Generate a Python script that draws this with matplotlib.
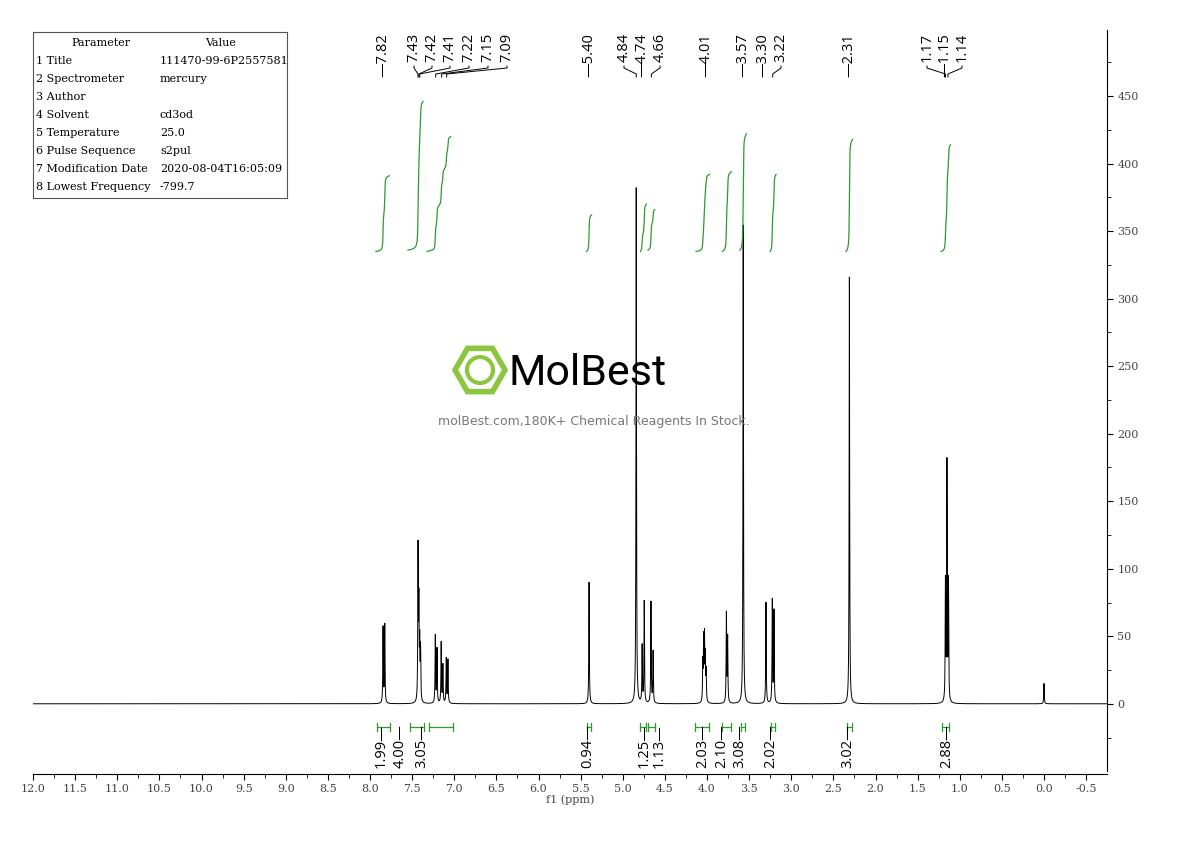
import numpy as np
import matplotlib
matplotlib.use("Agg")
import matplotlib.pyplot as plt
from matplotlib.patches import RegularPolygon, Circle

# ---- data ----
peak_ppm = [7.845, 7.825, 7.43, 7.42, 7.41, 7.40, 7.225, 7.205, 7.155, 7.135, 7.095, 7.075,
            5.40, 4.84, 4.77, 4.745, 4.665, 4.64,
            4.05, 4.04, 4.03, 4.02, 4.01, 3.77, 3.755, 3.57, 3.30, 3.225, 3.205,
            2.31, 1.17, 1.152, 1.134, 0.00]
peak_h = [56, 58, 112, 68, 40, 38, 50, 40, 45, 28, 33, 32,
          90, 382, 42, 75, 75, 38,
          28, 44, 46, 32, 22, 66, 48, 355, 75, 76, 68,
          316, 88, 176, 88, 15]
width = 0.0035

int_start = [7.93, 7.55, 7.32, 5.43, 4.79, 4.70, 4.13, 3.82, 3.61, 3.25, 2.35, 1.22]
int_end   = [7.77, 7.37, 7.04, 5.37, 4.72, 4.62, 3.97, 3.71, 3.53, 3.18, 2.27, 1.11]
int_bottom = [335, 336, 335, 335, 335, 336, 335, 335, 336, 335, 335, 335]
int_top    = [391, 446, 420, 362, 370, 366, 392, 394, 422, 392, 418, 414]

bracket_lo = [7.92, 7.52, 7.30, 5.42, 4.79, 4.70, 4.14, 3.82, 3.60, 3.24, 2.34, 1.21]
bracket_hi = [7.76, 7.36, 7.02, 5.38, 4.72, 4.62, 3.98, 3.72, 3.55, 3.19, 2.28, 1.13]
int_labels = ["1.99", "4.00", "3.05", "0.94", "1.25", "1.13", "2.03", "2.10", "3.08", "2.02", "3.02", "2.88"]
int_label_ppm = [7.87, 7.64, 7.38, 5.41, 4.74, 4.57, 4.05, 3.82, 3.61, 3.24, 2.33, 1.16]

top_labels = ["7.82", "7.43", "7.42", "7.41", "7.22", "7.15", "7.09", "5.40", "4.84", "4.74", "4.66",
              "4.01", "3.57", "3.30", "3.22", "2.31", "1.17", "1.15", "1.14"]
top_peak_pos = [7.83, 7.43, 7.42, 7.41, 7.22, 7.15, 7.09, 5.40, 4.84, 4.74, 4.66,
                4.01, 3.57, 3.30, 3.22, 2.31, 1.17, 1.15, 1.14]
# label x positions in figure pixels (layout)
top_label_px = [383, 414, 432, 450, 469, 488, 507, 589, 624, 642, 660,
                706, 743, 763, 781, 849, 927, 945, 962]

params = [("Parameter", "Value"), ("1 Title", "111470-99-6P2557581"), ("2 Spectrometer", "mercury"),
          ("3 Author", ""), ("4 Solvent", "cd3od"), ("5 Temperature", "25.0"),
          ("6 Pulse Sequence", "s2pul"), ("7 Modification Date", "2020-08-04T16:05:09"),
          ("8 Lowest Frequency", "-799.7")]

# ---- figure ----
fig = plt.figure(figsize=(11.9, 8.41), dpi=100)
W, H = 1190, 841
X0, PPM_PX = 33, 84.25
def px2ppm(px):
    return 12.0 - (px - X0) / PPM_PX

ax = fig.add_axes([33 / W, 1 - 774 / H, (1107 - 33) / W, (774 - 30) / H])
ax.set_xlim(12.0, px2ppm(1107))
ax.set_ylim(-52, 499)

x = np.linspace(12.0, -0.75, 40000)
y = np.zeros_like(x)
for p, h in zip(peak_ppm, peak_h):
    y += h * width**2 / ((x - p)**2 + width**2)
ax.plot(x, y, color="black", lw=0.7)

green = "#2e9a2e"
for s, e, b, t in zip(int_start, int_end, int_bottom, int_top):
    m = (x <= s) & (x >= e)
    c = np.cumsum(y[m])
    c = (c - c[0]) / (c[-1] - c[0])
    ax.plot(x[m], b + c * (t - b), color=green, lw=0.9)

for lo, hi, lab, lp in zip(bracket_lo, bracket_hi, int_labels, int_label_ppm):
    ax.plot([lo, hi], [-17, -17], color=green, lw=0.9)
    ax.plot([lo, lo], [-14, -20], color=green, lw=0.9)
    ax.plot([hi, hi], [-14, -20], color=green, lw=0.9)
    ax.text(lp, -15, lab + "—", rotation=90, ha="center", va="top", fontsize=10.5,
            family="Open Sans")

tr = ax.get_xaxis_transform()
def fy(py):
    return (774 - py) / 744
for lab, lpx, ppos in zip(top_labels, top_label_px, top_peak_pos):
    lpos = px2ppm(lpx)
    straight = abs(lpx - (X0 + (12 - ppos) * PPM_PX)) < 3
    ax.text(lpos, fy(33), ("—" + lab) if straight else lab, rotation=90, ha="center", va="top",
            fontsize=10.5, family="Open Sans", transform=tr)
    if not straight:
        ax.plot([lpos, lpos, ppos, ppos], [fy(66), fy(68), fy(74), fy(77)],
                color="black", lw=0.7, transform=tr)

for sp in ["top", "left"]:
    ax.spines[sp].set_visible(False)
ax.spines["right"].set_bounds(-50, 499)
ax.yaxis.tick_right()
ax.set_yticks(np.arange(0, 451, 50))
ax.set_yticks(np.arange(-25, 499, 25), minor=True)
xt = np.arange(12.0, -0.51, -0.5)
ax.set_xticks(xt)
ax.set_xticks(np.arange(11.75, -0.75, -0.5), minor=True)
ax.set_xticklabels([f"{v:.1f}" for v in xt], family="DejaVu Serif", fontsize=8, color="#444444")
ax.tick_params(axis="y", labelsize=8, direction="out", length=4, labelcolor="#444444")
ax.tick_params(axis="y", which="minor", length=3)
ax.tick_params(axis="x", direction="out", length=4, labelsize=8)
ax.tick_params(axis="x", which="minor", direction="out", length=3)
for t in ax.get_yticklabels():
    t.set_family("DejaVu Serif")
ax.set_xlabel("f1 (ppm)", family="DejaVu Serif", fontsize=8, labelpad=0, color="#444444")

# parameter table
tb = fig.add_axes([33 / W, 1 - 198 / H, (287 - 33) / W, (198 - 32) / H])
tb.set_xlim(0, 254); tb.set_ylim(166, 0)
tb.set_xticks([]); tb.set_yticks([])
for sp in tb.spines.values():
    sp.set_linewidth(0.8); sp.set_color("#555555")
for i, (a, b) in enumerate(params):
    yy = 11 + i * 18
    if i == 0:
        tb.text(68, yy, a, ha="center", va="center", fontsize=8, family="DejaVu Serif")
        tb.text(188, yy, b, ha="center", va="center", fontsize=8, family="DejaVu Serif")
    else:
        tb.text(3, yy, a, va="center", fontsize=8, family="DejaVu Serif")
        tb.text(127, yy, b, va="center", fontsize=8, family="DejaVu Serif")

# watermark
wm = fig.add_axes([0, 0, 1, 1], facecolor="none")
wm.set_xlim(0, W); wm.set_ylim(H, 0); wm.axis("off")
wm.add_patch(RegularPolygon((480, 370), 6, radius=25, orientation=np.pi / 2, fill=False,
                            ec="#8cc63f", lw=4))
wm.add_patch(Circle((480, 370), 13, fill=False, ec="#8cc63f", lw=3))
wm.text(508, 373, "MolBest", fontsize=31, va="center", ha="left", family="Roboto",
        color="black")
wm.text(594, 421, "molBest.com,180K+ Chemical Reagents In Stock.", fontsize=9, ha="center",
        va="center", color="#777777")

fig.savefig("out.png", dpi=100)
